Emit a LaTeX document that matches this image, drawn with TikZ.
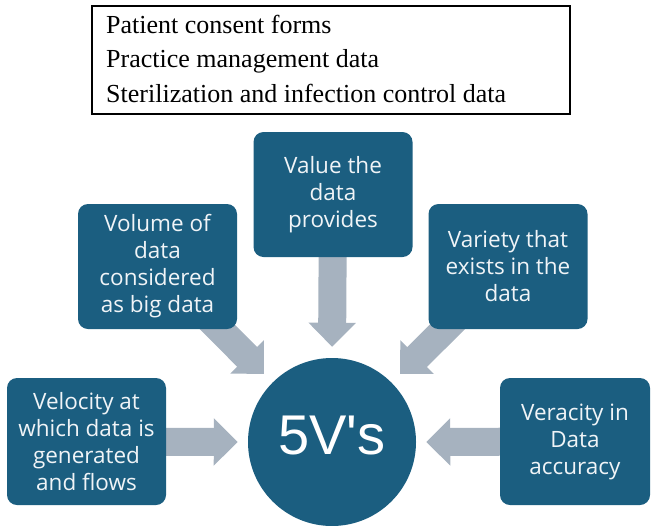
\documentclass[tikz,border=0pt]{standalone}
\usepackage{fontspec}
\setmainfont{Liberation Serif}
\newfontfamily\listfont{Liberation Serif}
\newfontfamily\boxfont{Open Sans}
\newfontfamily\circfont{Liberation Sans}
\usetikzlibrary{arrows.meta,backgrounds}
\definecolor{boxblue}{RGB}{27,94,128}
\definecolor{arrowgray}{RGB}{166,178,191}
\definecolor{boxtext}{RGB}{240,244,247}
\begin{document}
\begin{tikzpicture}[x=1pt,y=-1pt,
  vbox/.style={fill=boxblue, rounded corners=10pt, minimum width=159pt, minimum height=125pt,
    inner sep=2pt, align=center, text=boxtext, font=\boxfont\fontsize{22.5}{27}\selectfont},
  bigarrow/.style={draw=arrowgray, line width=28pt, -{Triangle[width=46pt,length=24pt]}},
  listline/.style={anchor=base west, inner sep=0pt, font=\listfont\fontsize{26}{30}\selectfont}
]
\useasboundingbox (0,0) rectangle (652,525);

% top list box
\node[draw=black, line width=2pt, minimum width=478pt, minimum height=108pt, inner sep=0pt] (list) at (331,60) {};
\node[listline] (l1) at (106,33) {Patient consent forms};
\node[listline] (l2) at (106,67) {Practice management data};
\node[listline] (l3) at (106,102) {Sterilization and infection control data};

% boxes
\node[vbox] (volume) at (157.5,266.5) {Volume of\\data\\considered\\as big data};
\node[vbox] (value) at (333,194.5) {Value the\\data\\provides};
\node[vbox] (variety) at (508,266.5) {Variety that\\exists in the\\data};
\node[vbox, minimum height=127pt] (velocity) at (86.5,441.5) {Velocity at\\which data is\\generated\\and flows};
\node[vbox, minimum height=127pt, minimum width=150pt] (veracity) at (575,441.5) {Veracity in\\Data\\accuracy};

% central circle
\node[circle, fill=boxblue, minimum size=168pt, inner sep=0pt] (c) at (332,442) {};
\node[text=white, inner sep=0pt, font=\circfont\fontsize{56}{60}\selectfont] (fivev) at (332,435) {5V\textquotesingle s};

% arrows
\begin{scope}[on background layer]
\draw[bigarrow, shorten >=11pt] (value.center) -- (c.north);
\draw[bigarrow, shorten >=12pt] (volume.center) -- (c.135);
\draw[bigarrow, shorten >=12pt] (variety.center) -- (c.45);
\draw[bigarrow, shorten >=10pt] (velocity.center) -- (c.west);
\draw[bigarrow, shorten >=10pt] (veracity.center) -- (c.east);
\end{scope}
\end{tikzpicture}
\end{document}
